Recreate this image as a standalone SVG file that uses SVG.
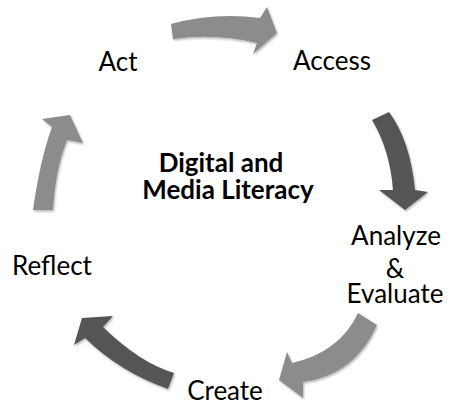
<svg xmlns="http://www.w3.org/2000/svg" width="451" height="406" viewBox="0 0 451 406">
<defs>
<filter id="sh" x="-20%" y="-20%" width="140%" height="140%">
<feDropShadow dx="1" dy="1.5" stdDeviation="1.2" flood-color="#000" flood-opacity="0.3"/>
</filter>
<style>
.lbl{font-family:Lato,"Open Sans","Liberation Sans",sans-serif;font-size:26px;fill:#000;text-anchor:middle}
.ctr{font-family:Lato,"Open Sans","Liberation Sans",sans-serif;font-size:26px;font-weight:bold;fill:#000;text-anchor:middle}
.light{fill:#8c8c8c;filter:url(#sh)}
.dark{fill:#555555;filter:url(#sh)}
</style>
</defs>
<rect width="451" height="406" fill="#fff"/>
<g id="connectors">
<path class="light" d="M171,24 Q215,12 260,18 L267,7 L277,33 L253,54 L257,43 Q215,33 173,39 Z"/>
<path class="dark" d="M372,120 L389,112 Q410,140 415,190 L428,192 L405,210 L379,190 L393,190 Q390,150 372,120 Z"/>
<path class="light" d="M358,313 L377,325 Q355,375 303,382 L303,398 L279,380 L287,352 L292,363 Q340,352 358,313 Z"/>
<path class="dark" d="M174,373 L168,389 Q120,372 85,338 L74,345 L82,318 L113,316 L103,327 Q140,363 174,373 Z"/>
<path class="light" d="M33,210 Q40,160 52,127 L42,119 L70,115 L83,143 L67,140 Q55,170 53,210 Z"/>
</g>
<g id="center"><text class="ctr" x="221" y="172">Digital and</text><text class="ctr" x="228" y="199">Media Literacy</text></g>
<g id="access"><text class="lbl" x="332" y="70">Access</text></g>
<g id="analyze"><text class="lbl" x="396" y="245">Analyze</text><text class="lbl" x="395" y="278">&amp;</text><text class="lbl" x="395" y="303">Evaluate</text></g>
<g id="create"><text class="lbl" x="225" y="400">Create</text></g>
<g id="reflect"><text class="lbl" x="52" y="275">Reflect</text></g>
<g id="act"><text class="lbl" x="118" y="71">Act</text></g>
</svg>
